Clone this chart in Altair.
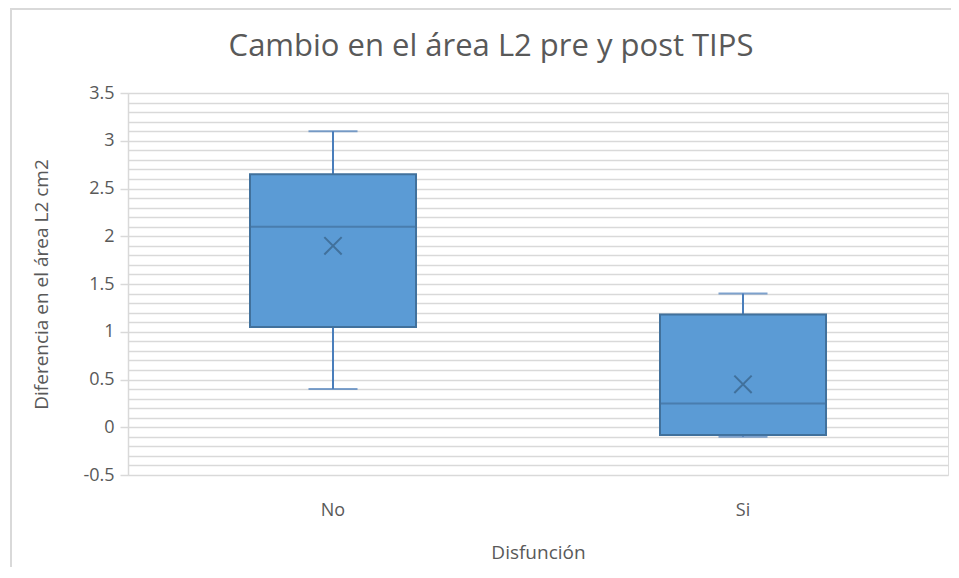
import altair as alt
import pandas as pd

groups = ["No", "Si"]
mins = [0.4, -0.1]
q1s = [1.05, -0.08]
medians = [2.1, 0.25]
q3s = [2.65, 1.18]
maxs = [3.1, 1.4]
means = [1.9, 0.45]

df = pd.DataFrame({"g": groups, "lo": mins, "q1": q1s, "med": medians,
                   "q3": q3s, "hi": maxs, "mean": means})

grid_vals = [round(-0.5 + 0.1 * i, 1) for i in range(41)]
major_test = "abs(datum.value*2 - round(datum.value*2)) < 0.000001"

FONT = "Open Sans"
TXT = "#595959"
FILL = "#5B9BD5"
EDGE = "#4A7EBB"
DARK = "#41719C"

x = alt.X("g:N", title="Disfunción", sort=groups,
          scale=alt.Scale(paddingInner=0, paddingOuter=0),
          axis=alt.Axis(labelAngle=0, ticks=False, domain=False, labelPadding=26,
                        labelFontSize=18, labelColor=TXT, labelFont=FONT,
                        titleFontSize=19, titleColor=TXT, titleFont=FONT,
                        titleFontWeight="normal", titlePadding=24))
yscale = alt.Scale(domain=[-0.5, 3.5], nice=False, zero=False)
yaxis = alt.Axis(values=grid_vals, grid=True, gridColor="#d9d9d9", gridWidth=1.5,
                 labelExpr=f"{major_test} ? '' + datum.value : ''",
                 tickOpacity=alt.condition(major_test, alt.value(1), alt.value(0)),
                 tickColor="#d9d9d9", tickSize=8, tickWidth=1.5,
                 domainColor="#d9d9d9", domainWidth=1.5,
                 labelFontSize=18, labelColor=TXT, labelFont=FONT, labelPadding=6,
                 title="Diferencia en el área L2 cm2", titleFontSize=19, titleColor=TXT,
                 titleFont=FONT, titleFontWeight="normal", titlePadding=31)

base = alt.Chart(df)

def Y(field):
    return alt.Y(field, scale=yscale, axis=yaxis)

whisk = base.mark_rule(color=EDGE, strokeWidth=2).encode(
    x=x, y=Y("lo:Q"), y2="hi:Q")
box = base.mark_bar(size=166, color=FILL, stroke=DARK, strokeWidth=2).encode(
    x=x, y=Y("q1:Q"), y2="q3:Q")
caps_lo = base.mark_tick(size=49, thickness=2, color=EDGE, orient="horizontal").encode(
    x=x, y=Y("lo:Q"))
caps_hi = base.mark_tick(size=49, thickness=2, color=EDGE, orient="horizontal").encode(
    x=x, y=Y("hi:Q"))
med = base.mark_tick(size=166, thickness=2, color=DARK, orient="horizontal").encode(
    x=x, y=Y("med:Q"))
mean = base.mark_point(shape="M -1 -1 L 1 1 M -1 1 L 1 -1", size=300, filled=False,
                       color=DARK, strokeWidth=2, opacity=1).encode(
    x=x, y=Y("mean:Q"))

frame_df = pd.DataFrame({"k": [0]})
frame_left = alt.Chart(frame_df).mark_rule(color="#d9d9d9", strokeWidth=2).encode(
    x=alt.value(-117), y=alt.value(-85), y2=alt.value(500))
frame_top = alt.Chart(frame_df).mark_rule(color="#d9d9d9", strokeWidth=2).encode(
    x=alt.value(-117), x2=alt.value(830), y=alt.value(-84))

chart = alt.layer(whisk, box, caps_lo, caps_hi, med, mean, frame_left, frame_top).properties(
    width=820, height=382,
    title=alt.TitleParams("Cambio en el área L2 pre y post TIPS", fontSize=31,
                          font=FONT, color=TXT, fontWeight="normal",
                          frame="group", anchor="middle", dx=-47, offset=-56),
    padding={"left": 120, "top": 85, "right": 3, "bottom": 92},
    autosize=alt.AutoSizeParams(type="none"),
).configure_view(stroke=None).configure(background="white")

chart.save("out.html", embed_options={"renderer": "svg", "actions": False})
